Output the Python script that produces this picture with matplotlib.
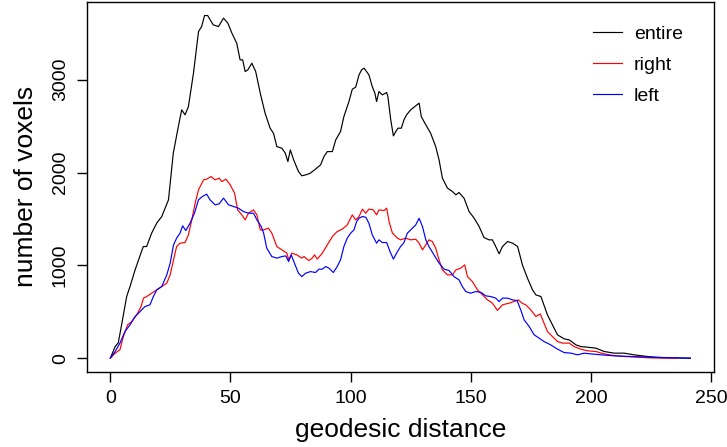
import matplotlib
matplotlib.use("Agg")
import matplotlib.pyplot as plt

plt.rcParams["font.family"] = ["Liberation Sans", "DejaVu Sans"]

# values
entire_x = [0, 2, 3.3, 4.7, 6.8, 8.2, 10.3, 13.7, 15.1, 17.2,
            19.3, 21.4, 24.2, 26.2, 28.3, 29.7, 31.1, 32.5, 34.6, 36.7,
            38, 39.2, 40.5, 42.8, 45, 47.1, 48.9, 50.6, 52.6, 54,
            55.1, 56.1, 57.2, 58.9, 60.5, 62.4, 64.4, 66.5, 67.9, 69.3,
            71.4, 72.8, 73.9, 74.9, 76.3, 78.3, 79.7, 81.3, 83, 85,
            87.5, 88.9, 90.3, 92.4, 93.8, 95.8, 97.2, 99.3, 100.7, 102.1,
            103.5, 104.6, 105.6, 107.6, 109, 110.1, 110.8, 111.8, 113.2, 115,
            115.5, 116.7, 117.8, 118.8, 119.7, 121.1, 122.2, 123.3, 125, 127.1,
            128.5, 129.4, 131.3, 133.3, 135.4, 136.8, 138.2, 140.3, 142.4, 143.8,
            145.1, 147.2, 149.3, 151.4, 153.5, 155.5, 157.6, 159, 160.4, 161.8,
            163.2, 165.3, 167.4, 169.5, 171.5, 173.6, 175.7, 177.1, 179.2, 181.9,
            184, 186.1, 188.9, 191, 193.8, 195.8, 198.6, 202.1, 205.5, 209.7,
            213.9, 218, 223.6, 227.8, 233, 241.4]
entire_y = [0, 125, 165, 360, 664, 772, 951, 1203, 1203, 1347,
            1455, 1526, 1706, 2209, 2496, 2676, 2622, 2711, 3071, 3519,
            3573, 3692, 3692, 3592, 3573, 3664, 3610, 3502, 3394, 3214,
            3214, 3088, 3106, 3178, 3088, 2855, 2640, 2478, 2424, 2280,
            2262, 2209, 2118, 2244, 2136, 2011, 1965, 1975, 1990, 2029,
            2083, 2172, 2226, 2226, 2352, 2442, 2603, 2765, 2898, 2920,
            3053, 3107, 3125, 3053, 2927, 2855, 2765, 2873, 2837, 2862,
            2819, 2568, 2395, 2442, 2478, 2478, 2568, 2622, 2676, 2719,
            2748, 2603, 2514, 2424, 2280, 2137, 1940, 1832, 1795, 1760,
            1785, 1724, 1580, 1509, 1418, 1300, 1275, 1275, 1203, 1124,
            1203, 1257, 1239, 1203, 1005, 862, 736, 682, 664, 467,
            359, 251, 208, 197, 143, 125, 118, 108, 72, 54,
            54, 36, 18, 8, 3, 0]

right_x = [0, 2, 4, 5.4, 7.2, 8.9, 11, 12.8, 13.8, 15.1,
           17.2, 19.3, 21.4, 23.5, 24.9, 26.3, 27.6, 29, 31.1, 32.5,
           33.9, 35.3, 36.7, 38.8, 40.1, 41.9, 43.6, 45.3, 46.4, 48.1,
           49.9, 51.7, 53, 54.7, 56.1, 57.5, 59.6, 61, 62.4, 63.8,
           65.8, 67.2, 69.3, 71.4, 73.5, 74.2, 75.5, 77.6, 79.7, 80.6,
           82.6, 84, 85, 86.1, 88.2, 90.3, 92.4, 94.4, 96.5, 98.6,
           100.7, 102.1, 103.5, 104.9, 106.3, 107.6, 109.4, 110.8, 111.8, 113.9,
           115, 116, 117.4, 119.5, 120.8, 122.9, 125, 127.1, 128.5, 129.9,
           131.3, 132.6, 134, 135.4, 136.8, 138.2, 140.3, 142.4, 143.8, 145.8,
           147.5, 148.6, 150.7, 152.8, 154.6, 157, 159, 161.1, 163.2, 166,
           168, 169.8, 171.5, 172.9, 175, 177.1, 178.9, 180.5, 181.9, 184,
           186.1, 188.2, 191, 193, 195.8, 198.6, 202, 205.5, 209.7, 213.9,
           219.4, 225, 230.5, 236]
right_y = [0, 54, 90, 233, 359, 395, 467, 556, 647, 664,
           700, 736, 772, 808, 898, 1059, 1203, 1239, 1246, 1329,
           1490, 1670, 1814, 1921, 1929, 1957, 1921, 1940, 1903, 1929,
           1867, 1778, 1598, 1544, 1490, 1562, 1598, 1544, 1382, 1382,
           1401, 1347, 1203, 1167, 1131, 1059, 1131, 1113, 1078, 1095,
           1052, 1078, 1113, 1067, 1131, 1221, 1310, 1364, 1390, 1436,
           1544, 1490, 1526, 1606, 1562, 1606, 1598, 1544, 1598, 1590,
           1616, 1472, 1347, 1293, 1275, 1293, 1275, 1282, 1239, 1167,
           1221, 1275, 1257, 1185, 1059, 951, 898, 898, 951, 970,
           1005, 879, 825, 736, 690, 628, 593, 515, 575, 593,
           610, 628, 590, 575, 520, 449, 477, 377, 287, 233,
           179, 162, 162, 125, 97, 79, 72, 46, 28, 18,
           11, 3, 0, 2]

left_x = [0, 2, 4, 6.1, 8.2, 10.3, 12.4, 14.4, 16.5, 17.9,
          19.3, 21.4, 23.5, 24.9, 26.3, 27.6, 29, 30.1, 31.4, 33.2,
          35, 36.7, 38.3, 40.1, 41.5, 43.6, 45.3, 47.1, 49.2, 51.3,
          53.3, 55.4, 57.5, 59.6, 61, 62.8, 63.8, 65.1, 67.2, 69.3,
          71.4, 73, 74.2, 75.3, 76.9, 78.3, 79.7, 81.3, 83.3, 85.4,
          86.8, 88.2, 89.6, 91, 92.8, 94.4, 95.8, 97.2, 98.6, 100,
          101.4, 102.5, 103.5, 104.9, 106.3, 107.6, 109, 110.8, 111.8, 113.2,
          115, 116.4, 117.8, 119.5, 120.8, 122.2, 123.6, 125, 127.1, 128.5,
          129.9, 131.3, 132.6, 134.7, 136.8, 138.9, 141, 143, 145.1, 146.5,
          147.9, 150, 152.1, 154.2, 156.3, 158.3, 160.4, 161.8, 163.2, 165.3,
          167.4, 169.3, 170.8, 172.2, 174.3, 176.4, 178.5, 180.5, 183.3, 186.1,
          188.9, 191.7, 194.4, 197.2, 200, 204.2, 209.7, 216.7, 223.6, 230.5,
          241.4]
left_y = [0, 72, 162, 287, 359, 449, 503, 556, 575, 664,
          736, 772, 898, 1024, 1221, 1293, 1347, 1426, 1375, 1455,
          1562, 1706, 1742, 1767, 1706, 1652, 1663, 1724, 1652, 1634,
          1616, 1580, 1562, 1562, 1490, 1418, 1347, 1185, 1095, 1078,
          1095, 1102, 1041, 1113, 1005, 916, 879, 916, 933, 923,
          959, 959, 987, 970, 923, 987, 1059, 1203, 1293, 1347,
          1382, 1472, 1508, 1526, 1519, 1455, 1329, 1239, 1275, 1246,
          1246, 1149, 1067, 1149, 1203, 1246, 1347, 1382, 1436, 1508,
          1418, 1275, 1203, 1113, 1024, 959, 944, 879, 844, 772,
          718, 700, 718, 709, 671, 664, 647, 610, 647, 647,
          628, 620, 520, 413, 341, 251, 215, 179, 143, 97,
          60, 54, 36, 54, 46, 36, 25, 18, 11, 7,
          0]

x_ticks = [0, 50, 100, 150, 200, 250]
y_ticks = [0, 1000, 2000, 3000]

fig = plt.figure(figsize=(7.27, 4.47), dpi=100)
ax = fig.add_axes([0.1197, 0.168, 0.862, 0.828])

ax.plot(entire_x, entire_y, color="black", lw=0.85, label="entire")
ax.plot(right_x, right_y, color="red", lw=0.85, label="right")
ax.plot(left_x, left_y, color="blue", lw=0.85, label="left")

ax.set_xlim(-9.7, 251.1)
ax.set_ylim(-148, 3840)
ax.set_xticks(x_ticks)
ax.set_yticks(y_ticks)
ax.tick_params(direction="out", length=7, width=1, labelsize=14, pad=6)
ax.set_yticklabels([str(v) for v in y_ticks], rotation=90, va="center")
for s in ax.spines.values():
    s.set_linewidth(1)

ax.set_xlabel("geodesic distance", fontsize=19, labelpad=8)
ax.set_ylabel("number of voxels", fontsize=19, labelpad=10)

ax.legend(loc="upper right", frameon=False, fontsize=14, handlelength=1.5,
          handletextpad=0.6, labelspacing=0.7, borderaxespad=0.6,
          bbox_to_anchor=(0.982, 0.99))

fig.savefig("out.png", dpi=100)
